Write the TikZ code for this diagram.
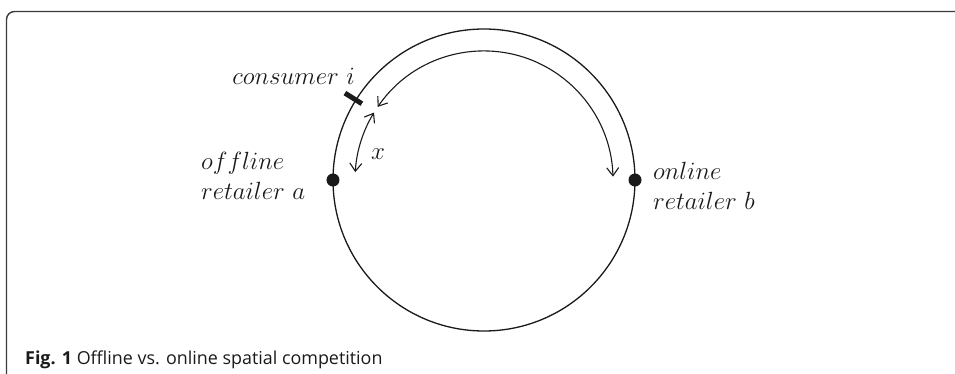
\documentclass[tikz,border=0pt]{standalone}
\usepackage{fontspec}
\usepackage{tikz}
\usetikzlibrary{arrows.meta,positioning}
\newfontfamily\capfont{Open Sans}
\definecolor{inkdark}{HTML}{1A1A1A}
\definecolor{framegray}{HTML}{3A3A3A}

\begin{document}
\begin{tikzpicture}[x=1pt,y=1pt,
      lbl/.style={inner sep=0pt,font=\fontsize{25.5}{30}\selectfont,text=inkdark},
      dot/.style={circle,fill=inkdark,inner sep=0pt,minimum size=13pt},
      ringline/.style={line width=1.3pt,draw=inkdark},
      dbl/.style={line width=1.1pt,draw=inkdark,
                  {Straight Barb[length=8pt,width=12pt]}-{Straight Barb[length=8pt,width=12pt]}},
      tick/.style={line width=5pt,draw=inkdark}]
    \useasboundingbox (-484,-194) rectangle (471,180);

    % frame of the figure
    \draw[framegray,line width=1.4pt,rounded corners=8pt]
      (472,168.5) -- (-477.5,168.5) -- (-477.5,-195);

    % the circular market
    \node[circle,ringline,minimum size=302pt,inner sep=0pt,outer sep=0pt] (ring) at (0,0) {};
    \node[dot] (reta) at (ring.west) {};
    \node[dot] (retb) at (ring.east) {};

    % consumer position
    \coordinate (cin)  at (148:144);
    \coordinate (cout) at (148:164);
    \draw[tick] (cin) -- (cout);

    % distances along the circle
    \coordinate (far0) at (145.5:129);
    \coordinate (near0) at (148.5:129);
    \draw[dbl] (far0) arc[start angle=145.5,end angle=1.5,radius=129];
    \draw[dbl] (near0) arc[start angle=148.5,end angle=176.5,radius=129];

    % labels
    \node[lbl,anchor=base east] (cons) at (-129,95) {$consumer\ i$};
    \node[lbl,anchor=base] (dist) at (-106,20) {$x$};
    \node[lbl,anchor=base west] (offl) at (-283,10) {$offline$};
    \node[lbl,anchor=base west] (reta1) at (-283,-20) {$retailer\ a$};
    \node[lbl,anchor=base west] (onl) at (169,0) {$online$};
    \node[lbl,anchor=base west] (retb1) at (169,-30) {$retailer\ b$};

    % caption
    \node[anchor=base west,inner sep=0pt,text=inkdark,
          font=\capfont\fontsize{17.9}{20}\selectfont] (cap) at (-459,-184)
      {\textbf{Fig. 1} Offline vs. online spatial competition};
\end{tikzpicture}
\end{document}
